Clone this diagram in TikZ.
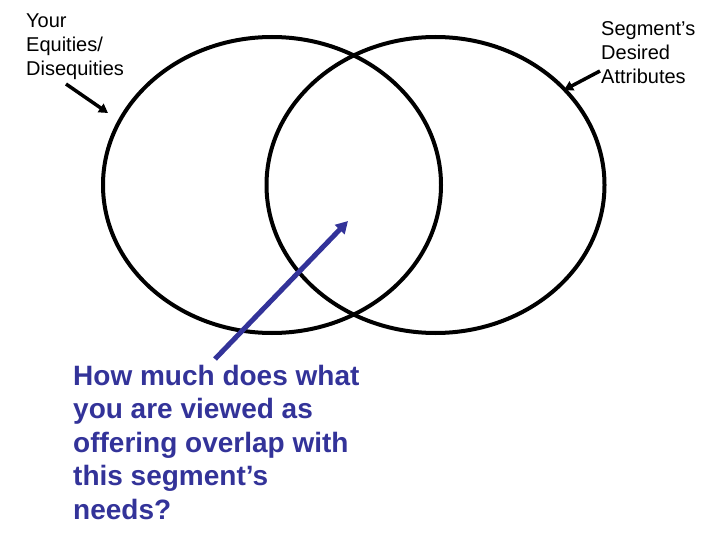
\documentclass[tikz,border=0pt]{standalone}
\usepackage{fontspec}
\setmainfont{Liberation Sans}
\usetikzlibrary{shapes.geometric,arrows.meta}
\definecolor{navy}{HTML}{333399}
\tikzset{
  circ/.style={draw=black, line width=4pt, ellipse, inner sep=0pt, minimum width=338pt, minimum height=296pt},
  lbl/.style={anchor=base west, inner sep=0pt, font=\fontsize{20}{24}\selectfont},
  qlbl/.style={anchor=base west, inner sep=0pt, text=navy, font=\fontsize{28}{33.5}\selectfont\bfseries},
  blackarrow/.style={draw=black, line width=3.5pt, -{Triangle[length=9pt,width=10pt]}},
  bluearrow/.style={draw=navy, line width=5pt, -{Triangle[length=12pt,width=13pt]}}
}
\begin{document}
\begin{tikzpicture}[x=1pt,y=-1pt]
\useasboundingbox (0,0) rectangle (720,540);
\node[circ] (L) at (272,185) {};
\node[circ] (R) at (435.5,185) {};
\node[lbl] (tl) at (26,28) {\vtop{\hbox{Your}\hbox{Equities/}\hbox{Disequities}}};
\node[lbl] (tr) at (601,36) {\vtop{\hbox{Segment’s}\hbox{Desired}\hbox{Attributes}}};
\node[qlbl] (q) at (73,385) {\vtop{\hbox{How much does what}\hbox{you are viewed as}\hbox{offering overlap with}\hbox{this segment’s}\hbox{needs?}}};
\coordinate (a1s) at (66,84);
\coordinate (a1e) at (108,113);
\coordinate (a2s) at (600,71);
\coordinate (a2e) at (564,90);
\coordinate (bs) at (215,359);
\coordinate (be) at (348,221);
\draw[blackarrow] (a1s) -- (a1e);
\draw[blackarrow] (a2s) -- (a2e);
\draw[bluearrow] (bs) -- (be);
\end{tikzpicture}
\end{document}
